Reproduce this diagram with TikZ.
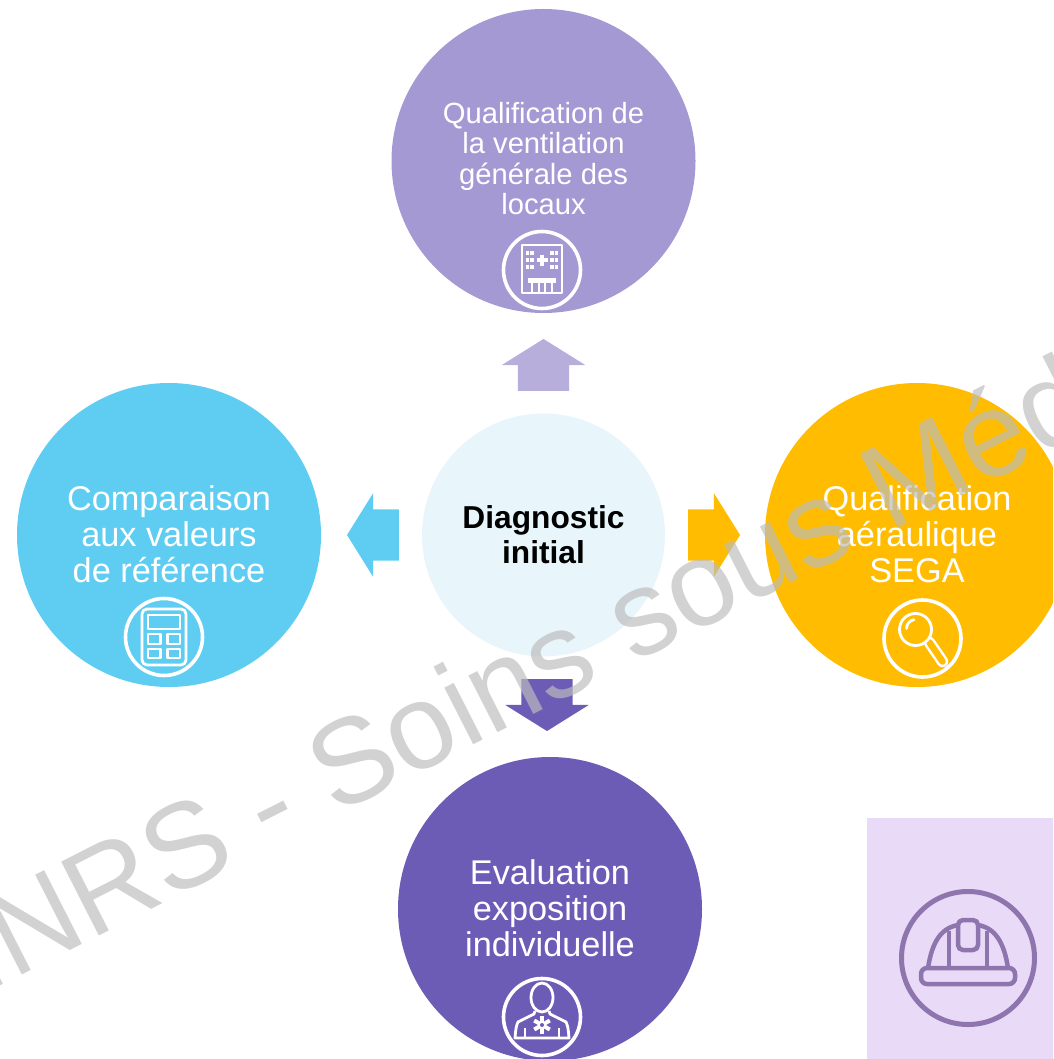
\documentclass[tikz,border=0pt]{standalone}
\usepackage{xcolor}
\usepackage{fontspec}
\setmainfont{Liberation Sans}
\usepackage{tikz}
\usetikzlibrary{shapes}
\usetikzlibrary{shapes.arrows}
\definecolor{lilac}{HTML}{A599D4}
\definecolor{lilacpale}{HTML}{B7AEDC}
\definecolor{skyblue}{HTML}{5FCDF2}
\definecolor{amber}{HTML}{FFBC00}
\definecolor{violet}{HTML}{6C5CB6}
\definecolor{icepale}{HTML}{E8F6FC}
\definecolor{mauvepale}{HTML}{E9DBF7}
\definecolor{mauve}{HTML}{8E75AE}
\definecolor{markgray}{HTML}{BCBCBC}
\tikzset{
  main node/.style={circle,minimum size=304pt,inner sep=0pt},
  main text/.style={text=white,align=center,inner sep=0pt,font=\fontsize{34.3}{36}\selectfont},
  ring node/.style={circle,draw=white,line width=3.6pt,minimum size=77pt,inner sep=0pt},
  block arrow/.style={single arrow,inner sep=0pt,text height=25.5pt,text depth=25.5pt,minimum height=52pt,minimum width=83pt,
    single arrow head extend=16pt,single arrow tip angle=116,draw=none},
  icon line/.style={draw=white,line width=2.8pt,line join=round}
}

\begin{document}
\begin{tikzpicture}[x=1pt,y=-1pt]
  \useasboundingbox (0,0) rectangle (1053,1059);
  \clip (0,0) rectangle (1053,1059);

  % circles
  \node [main node,fill=lilac] (vent) at (543.5,161) {};
  \node [main node,fill=skyblue] (comp) at (169,535) {};
  \node [main node,fill=amber] (sega) at (917,535) {};
  \node [main node,fill=violet] (expo) at (550,909) {};
  \node [circle,minimum size=243pt,inner sep=0pt,fill=icepale,align=center,font=\bfseries\fontsize{31.7}{35}\selectfont] (diag) at (543.5,535) {Diagnostic\\initial};

  \node [main text,font=\fontsize{29.2}{30.3}\selectfont] (ventText) at (543.5,158.5) {Qualification de\\la ventilation\\générale des\\locaux};
  \node [main text] (compText) at (169,534.4) {Comparaison\\aux valeurs\\de référence};
  \node [main text] (segaText) at (917,534.4) {Qualification\\aéraulique\\SEGA};
  \node [main text] (expoText) at (550,908.4) {Evaluation\\exposition\\individuelle};

  % arrows
  \node [block arrow,fill=lilacpale,rotate=90] (toVent) at (543.5,373) {};
  \node [block arrow,fill=skyblue,rotate=180] (toComp) at (381,535) {};
  \node [block arrow,fill=amber] (toSega) at (706,535) {};
  \node [block arrow,fill=violet,rotate=-90] (toExpo) at (547,697) {};

  % hat box
  \node [rectangle,fill=mauvepale,minimum width=186pt,minimum height=241pt,inner sep=0pt] (hatbox) at (960,938.5) {};
  \node [ring node,draw=mauve,line width=5pt,minimum size=133pt] (hatring) at (968,958) {};
  \begin{scope}[shift={(hatring.center)},line width=4.5pt,draw=mauve,line join=round]
    \draw [rounded corners=6pt] (-47,10) rectangle (47,26);
    \draw [rounded corners=5pt] (-10,-38) rectangle (10,-8);
    \draw (-40,10) .. controls (-36,-16) and (-27,-30) .. (-10,-33);
    \draw (40,10) .. controls (36,-16) and (27,-30) .. (10,-33);
    \draw (-19,-27) -- (-19,10);
    \draw (19,-27) -- (19,10);
  \end{scope}

  % building
  \node [ring node] (ventring) at (542,270) {};
  \begin{scope}[shift={(ventring.center)}]
    \draw [icon line] (-20,23) -- (-20,-25) -- (20,-25) -- (20,23) -- cycle;
    \fill [white] (-14,8) rectangle (14,12.5);
    \foreach \xa in {-14.5,-10,10,14.5}
      \foreach \ya in {-17,-10,-3}
        \fill [white] (\xa-1.7,\ya-1.7) rectangle (\xa+1.7,\ya+1.7);
    \draw [white,line width=3.4pt] (-5.5,-10) -- (5.5,-10) (0,-15.5) -- (0,-4.5);
    \draw [icon line] (-10,12) -- (-10,23) (-3,12) -- (-3,23) (3,12) -- (3,23) (10,12) -- (10,23);
  \end{scope}

  % calculator
  \node [ring node] (compring) at (164,637) {};
  \begin{scope}[shift={(compring.center)}]
    \draw [icon line,rounded corners=5pt] (-22,-28) rectangle (22,28);
    \draw [icon line] (-16,-22) rectangle (16,-8);
    \foreach \xa/\xb in {-16/-3.5,3.5/16}
      \foreach \ya/\yb in {-3/7,12/21}
        \draw [icon line] (\xa,\ya) rectangle (\xb,\yb);
  \end{scope}

  % magnifier
  \node [ring node] (segaring) at (922.5,638.5) {};
  \begin{scope}[shift={(segaring.center)}]
    \draw [white,line width=11.5pt,line cap=round] (7,4) -- (20,23);
    \draw [amber,line width=6.5pt,line cap=round] (7,4) -- (20,23);
    \draw [icon line,fill=amber] (-7,-9) circle (16pt);
    \draw [icon line,line cap=round] (-16,-10) arc (180:100:9pt);
  \end{scope}

  % person
  \node [ring node] (exporing) at (542,1017) {};
  \begin{scope}[shift={(exporing.center)}]
    \draw [icon line] (0,-19.5) ellipse (11pt and 14.5pt);
    \draw [icon line] (-7,-6) -- (-8,-3) -- (-24,5) .. controls (-26,10) .. (-27,21) -- (27,21) .. controls (26,10) .. (24,5) -- (8,-3) -- (7,-6);
    \draw [icon line] (-17,11) -- (-17,21) (17,11) -- (17,21);
    \foreach \a in {30,90,150}
      \draw [white,line width=4pt] (0,8) ++(\a:9pt) -- ++(\a+180:18pt);
    \fill [violet] (0,8) circle (2pt);
  \end{scope}

  % watermark
  \node [anchor=base west,rotate=27,text=markgray,opacity=.68,inner sep=0pt,font=\fontsize{120.5}{120.5}\selectfont] (mark) at (-17,995) {INRS - Soins sous Méd};
\end{tikzpicture}
\end{document}
